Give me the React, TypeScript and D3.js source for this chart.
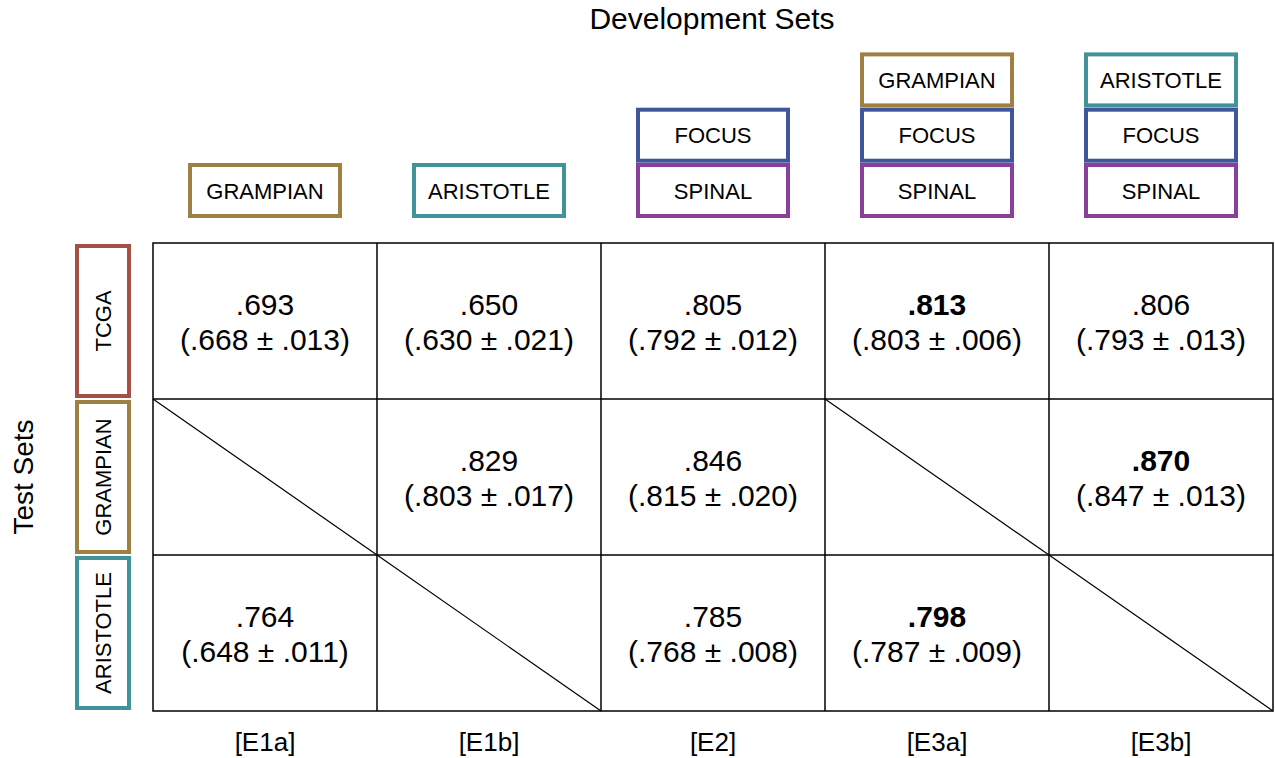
import * as d3 from 'd3';
import React from 'react';

// dev set labels per column, listed bottom to top
const columns = ['[E1a]', '[E1b]', '[E2]', '[E3a]', '[E3b]'];
const devSets = [
  ['GRAMPIAN'],
  ['ARISTOTLE'],
  ['SPINAL', 'FOCUS'],
  ['SPINAL', 'FOCUS', 'GRAMPIAN'],
  ['SPINAL', 'FOCUS', 'ARISTOTLE'],
];
const testSets = ['TCGA', 'GRAMPIAN', 'ARISTOTLE'];

// best score, mean, std (null = not evaluated)
const best = [
  [0.693, 0.650, 0.805, 0.813, 0.806],
  [null, 0.829, 0.846, null, 0.870],
  [0.764, null, 0.785, 0.798, null],
];
const means = [
  [0.668, 0.630, 0.792, 0.803, 0.793],
  [null, 0.803, 0.815, null, 0.847],
  [0.648, null, 0.768, 0.787, null],
];
const stds = [
  [0.013, 0.021, 0.012, 0.006, 0.013],
  [null, 0.017, 0.020, null, 0.013],
  [0.011, null, 0.008, 0.009, null],
];

const setColors: Record<string, string> = {
  TCGA: '#a65045',
  GRAMPIAN: '#9d8042',
  ARISTOTLE: '#42929a',
  FOCUS: '#40569b',
  SPINAL: '#8a3f98',
};

const width = 1275;
const height = 758;
const font = 'Liberation Sans, Arial, sans-serif';

const fmt = (v: number) => d3.format('.3f')(v).replace(/^0/, '');

function App() {
  const x = d3.scaleBand<number>().domain(d3.range(columns.length)).range([153, 1273]);
  const y = d3.scaleBand<number>().domain(d3.range(testSets.length)).range([243, 711]);

  // bold the best of each row
  const rowMax = best.map((r) => d3.max(r.filter((v) => v != null) as number[]) as number);

  const boxW = 150;
  const boxH = 51;
  const boxPitch = 55.3;
  const boxBottom = 216;

  const cells: any[] = [];
  testSets.forEach((_, r) => {
    columns.forEach((__, c) => {
      const x0 = x(c) as number;
      const y0 = y(r) as number;
      const cx = x0 + x.bandwidth() / 2;
      const cy = y0 + y.bandwidth() / 2;
      const v = best[r][c];
      if (v == null) {
        cells.push(
          <line key={`d${r}${c}`} x1={x0} y1={y0} x2={x0 + x.bandwidth()} y2={y0 + y.bandwidth()}
            stroke="#000" strokeWidth={1.2} />
        );
      } else {
        cells.push(
          <g key={`t${r}${c}`}>
            <text x={cx} y={cy - 6} textAnchor="middle" fontSize={30}
              fontWeight={v === rowMax[r] ? 'bold' : 'normal'}>{fmt(v)}</text>
            <text x={cx} y={cy + 29} textAnchor="middle" fontSize={30}>
              {`(${fmt(means[r][c] as number)} ± ${fmt(stds[r][c] as number)})`}
            </text>
          </g>
        );
      }
    });
  });

  return (
    <svg width={width} height={height} style={{ position: 'absolute', left: 0, top: 0 }}
      fontFamily={font}>
      <rect width={width} height={height} fill="#fff" />
      <text x={712} y={29} textAnchor="middle" fontSize={30}>Development Sets</text>
      <text transform={`translate(33,477) rotate(-90)`} textAnchor="middle" fontSize={28}>Test Sets</text>

      {devSets.map((sets, c) => {
        const cx = (x(c) as number) + x.bandwidth() / 2;
        return sets.map((s, i) => {
          const by = boxBottom - boxH / 2 - i * boxPitch;
          return (
            <g key={`b${c}${i}`}>
              <rect x={cx - boxW / 2} y={by - boxH / 2} width={boxW} height={boxH}
                fill="#fff" stroke={setColors[s]} strokeWidth={4} />
              <text x={cx} y={by + 8} textAnchor="middle" fontSize={22}>{s}</text>
            </g>
          );
        });
      })}

      {testSets.map((s, r) => {
        const cy = (y(r) as number) + y.bandwidth() / 2;
        const bh = y.bandwidth() - 6;
        return (
          <g key={`l${r}`}>
            <rect x={77} y={cy - bh / 2} width={52} height={bh} fill="#fff"
              stroke={setColors[s]} strokeWidth={4} />
            <text transform={`translate(111,${cy}) rotate(-90)`} textAnchor="middle" fontSize={22}>{s}</text>
          </g>
        );
      })}

      {cells}

      {/* grid */}
      <rect x={153} y={243} width={1120} height={468} fill="none" stroke="#000" strokeWidth={1.5} />
      {d3.range(1, columns.length).map((c) => (
        <line key={`vc${c}`} x1={x(c)} x2={x(c)} y1={243} y2={711} stroke="#000" strokeWidth={1.5} />
      ))}
      {d3.range(1, testSets.length).map((r) => (
        <line key={`hr${r}`} x1={153} x2={1273} y1={y(r)} y2={y(r)} stroke="#000" strokeWidth={1.5} />
      ))}

      {columns.map((lab, c) => (
        <text key={`c${c}`} x={(x(c) as number) + x.bandwidth() / 2} y={751} textAnchor="middle"
          fontSize={26}>{lab}</text>
      ))}
    </svg>
  );
}

export default App;
